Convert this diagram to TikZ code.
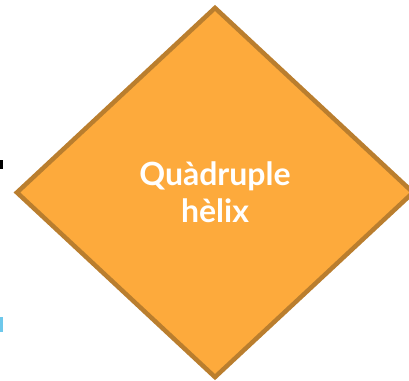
\documentclass[tikz,border=0pt]{standalone}
\usepackage{fontspec}
\newfontfamily\latofont{Lato}
\usetikzlibrary{shapes.geometric}
\definecolor{helixfill}{RGB}{253,170,60}
\definecolor{helixline}{RGB}{186,126,46}
\definecolor{cutblue}{RGB}{110,200,235}
\begin{document}
\begin{tikzpicture}[x=1pt,y=1pt,yscale=-1]
\useasboundingbox (0,0) rectangle (409,380);

%Shape: Diamond [id:helix]
\node (helix) [diamond, draw=helixline, fill=helixfill, line width=4.5pt, inner sep=0pt,
  minimum width=398pt, minimum height=371pt, align=center, text=white,
  font=\latofont\bfseries\fontsize{32}{37}\selectfont] at (215,192.5) {Quàdruple\\hèlix};

%Shape: cut marks on the left edge
\fill [black] (0,160) rectangle (2.5,169) ;
\fill [cutblue] (0,317) rectangle (2.5,332) ;

\end{tikzpicture}
\end{document}
